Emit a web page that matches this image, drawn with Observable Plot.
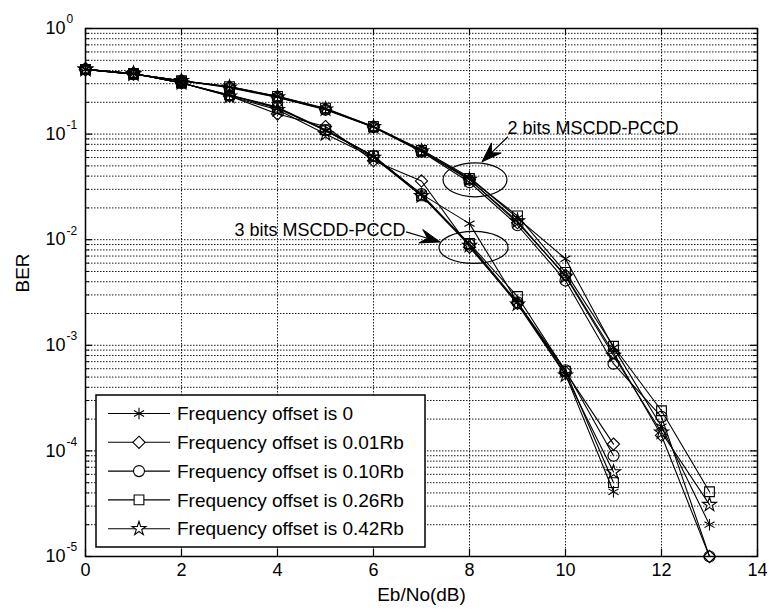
<!DOCTYPE html>
<html>
<head>
<meta charset="utf-8">
<script src="https://cdn.jsdelivr.net/npm/d3@7"></script>
<script src="https://cdn.jsdelivr.net/npm/@observablehq/plot@0.6"></script>
<style>
  html, body { margin: 0; padding: 0; background: #fff; }
  svg { display: block; }
</style>
</head>
<body>
<div id="chart"></div>
<script>
// ---------- data ----------
const seriesLabels = [
  "Frequency offset is 0",
  "Frequency offset is 0.01Rb",
  "Frequency offset is 0.10Rb",
  "Frequency offset is 0.26Rb",
  "Frequency offset is 0.42Rb"
];
const seriesSymbols = ["asterisk", "diamond2", "circle", "square", "star"];
const symbolRadius = [5.5, 5.5, 5.5, 5.5, 4.4];

// 2 bits MSCDD-PCCD, Eb/No = 0..13 dB
const ebno2 = [0,1,2,3,4,5,6,7,8,9,10,11,12,13];
const ber2_off0    = [0.41,0.37,0.32,0.28,0.228,0.174,0.118,0.071,0.039,0.0160,0.0066,0.00095,0.00017,2.0e-5];
const ber2_off001  = [0.41,0.37,0.32,0.28,0.225,0.172,0.117,0.069,0.037,0.0145,0.0046,0.00085,0.00014,1.0e-5];
const ber2_off010  = [0.41,0.37,0.32,0.275,0.222,0.170,0.116,0.068,0.035,0.0137,0.0041,0.00067,0.00021,1.0e-5];
const ber2_off026  = [0.41,0.37,0.32,0.282,0.228,0.176,0.118,0.070,0.038,0.0168,0.0049,0.00098,0.00024,4.1e-5];
const ber2_off042  = [0.41,0.37,0.32,0.278,0.224,0.172,0.117,0.069,0.037,0.0150,0.0045,0.00080,0.00015,3.1e-5];

// 3 bits MSCDD-PCCD, Eb/No = 0..11 dB
const ebno3 = [0,1,2,3,4,5,6,7,8,9,10,11];
const ber3_off0    = [0.41,0.375,0.305,0.235,0.178,0.108,0.061,0.027,0.0142,0.00255,0.00053,4.1e-5];
const ber3_off001  = [0.41,0.375,0.305,0.23,0.155,0.118,0.056,0.036,0.0085,0.00250,0.00056,1.16e-4];
const ber3_off010  = [0.41,0.375,0.305,0.232,0.176,0.108,0.062,0.027,0.0090,0.00255,0.00058,9.0e-5];
const ber3_off026  = [0.41,0.375,0.305,0.235,0.180,0.110,0.062,0.026,0.0092,0.00290,0.00057,5.0e-5];
const ber3_off042  = [0.41,0.375,0.305,0.228,0.170,0.100,0.060,0.026,0.0088,0.00245,0.00052,6.3e-5];

// ticks
const xTicks = [0,2,4,6,8,10,12,14];
const yMajor = [1, 1e-1, 1e-2, 1e-3, 1e-4, 1e-5];
const yExponents = ["0","-1","-2","-3","-4","-5"];
const yMinorMultipliers = [2,3,4,5,6,7,8,9];
const yDecades = [1e-1, 1e-2, 1e-3, 1e-4, 1e-5];

// annotations (data coordinates)
const annText = [
  {label: "2 bits MSCDD-PCCD", x: 8.79, y: 0.1135, anchor: "start"},
  {label: "3 bits MSCDD-PCCD", x: 6.667, y: 0.01225, anchor: "end"}
];
const annEllipse = [
  {x: 8.125, y: 0.0365, rx: 32, ry: 17},
  {x: 8.094, y: 0.00836, rx: 34.5, ry: 16}
];
const annArrow = [
  {x1: 8.81, y1: 0.0933, x2: 8.27, y2: 0.054},
  {x1: 6.69, y1: 0.01173, x2: 7.396, y2: 0.00942}
];

// ---------- build table ----------
const group2 = [ber2_off0, ber2_off001, ber2_off010, ber2_off026, ber2_off042];
const group3 = [ber3_off0, ber3_off001, ber3_off010, ber3_off026, ber3_off042];
const rows = [];
group2.forEach((arr, i) => arr.forEach((v, j) => rows.push({group: "2 bits", series: seriesLabels[i], x: ebno2[j], ber: v})));
group3.forEach((arr, i) => arr.forEach((v, j) => rows.push({group: "3 bits", series: seriesLabels[i], x: ebno3[j], ber: v})));

const yMinor = [];
yDecades.forEach(d => yMinorMultipliers.forEach(m => yMinor.push(m * d)));
const yTickTable = yMajor.map((v, i) => ({v, exp: yExponents[i]}));

// ---------- layout ----------
const W = 769, H = 613;
const mL = 85, mR = 12, mT = 28, mB = 57;
const fw = W - mL - mR, fh = H - mT - mB;
const FONT = "'Liberation Sans', Arial, Helvetica, sans-serif";
const grid = {stroke: "#000", strokeWidth: 1, strokeDasharray: "1.5,1.5", strokeOpacity: 0.9};

const dotMarks = seriesLabels.map((lab, i) =>
  Plot.dot(rows, {x: "x", y: "ber", symbol: "series", filter: d => d.series === lab,
    r: symbolRadius[i], stroke: "black", fill: "none", strokeWidth: 1.1}));

const chart = Plot.plot({
  width: W, height: H,
  marginLeft: mL, marginRight: mR, marginTop: mT, marginBottom: mB,
  style: {fontFamily: FONT, fontSize: "18px", background: "white", color: "black"},
  x: {domain: [0, 14], axis: null},
  y: {type: "log", domain: [1e-5, 1], axis: null},
  symbol: {domain: seriesLabels, range: seriesSymbols},
  marks: [
    // grid
    Plot.ruleX(xTicks, {...grid}),
    Plot.ruleY(yMajor, {...grid}),
    Plot.ruleY(yMinor, {...grid}),
    // data
    Plot.line(rows, {x: "x", y: "ber", z: d => d.group + d.series, stroke: "black", strokeWidth: 1.1}),
    ...dotMarks,
    // frame and inward ticks
    Plot.frame({stroke: "black", strokeWidth: 1.5}),
    Plot.ruleX(xTicks, {stroke: "black", strokeWidth: 1.2, insetTop: fh - 7}),
    Plot.ruleX(xTicks, {stroke: "black", strokeWidth: 1.2, insetBottom: fh - 7}),
    Plot.ruleY(yMajor, {stroke: "black", strokeWidth: 1.2, insetRight: fw - 7}),
    Plot.ruleY(yMajor, {stroke: "black", strokeWidth: 1.2, insetLeft: fw - 7}),
    Plot.ruleY(yMinor, {stroke: "black", strokeWidth: 1, insetRight: fw - 4}),
    Plot.ruleY(yMinor, {stroke: "black", strokeWidth: 1, insetLeft: fw - 4}),
    // tick labels
    Plot.text(xTicks, {x: d => d, frameAnchor: "bottom", dy: 19, text: d => String(d), fontSize: 18}),
    Plot.text(yTickTable, {y: "v", frameAnchor: "left", dx: -20, text: () => "10", textAnchor: "end", fontSize: 18}),
    Plot.text(yTickTable, {y: "v", frameAnchor: "left", dx: -19, dy: -9, text: "exp", textAnchor: "start", fontSize: 12}),
    // axis labels
    Plot.text(["BER"], {frameAnchor: "left", dx: -63, rotate: -90, text: d => d, fontSize: 19}),
    Plot.text(["Eb/No(dB)"], {frameAnchor: "bottom", dy: 44, text: d => d, fontSize: 19}),
    // annotation texts
    Plot.text(annText, {x: "x", y: "y", text: "label", textAnchor: "start", filter: d => d.anchor === "start", fontSize: 18}),
    Plot.text(annText, {x: "x", y: "y", text: "label", textAnchor: "end", filter: d => d.anchor === "end", fontSize: 18})
  ]
});
document.getElementById("chart").appendChild(chart);

// ---------- annotations & legend (pixel space via Plot scales) ----------
const sx = chart.scale("x"), sy = chart.scale("y");
const fx = sx.apply ? (v => sx.apply(v)) : d3.scaleLinear(sx.domain, sx.range);
const fy = sy.apply ? (v => sy.apply(v)) : d3.scaleLog(sy.domain, sy.range);
const svg = d3.select(chart);
const ann = svg.append("g").attr("fill", "none").attr("stroke", "black");

annEllipse.forEach(e => {
  ann.append("ellipse").attr("cx", fx(e.x)).attr("cy", fy(e.y))
    .attr("rx", e.rx).attr("ry", e.ry).attr("stroke-width", 1.2);
});
annArrow.forEach(a => {
  const x1 = fx(a.x1), y1 = fy(a.y1), x2 = fx(a.x2), y2 = fy(a.y2);
  const dx = x2 - x1, dy = y2 - y1, len = Math.hypot(dx, dy);
  const ux = dx / len, uy = dy / len, px = -uy, py = ux;
  const L = 20, Wd = 7, N = 13;
  ann.append("line").attr("x1", x1).attr("y1", y1)
    .attr("x2", x2 - ux * N).attr("y2", y2 - uy * N).attr("stroke-width", 1.2);
  const pts = [
    [x2, y2],
    [x2 - ux * L + px * Wd, y2 - uy * L + py * Wd],
    [x2 - ux * N, y2 - uy * N],
    [x2 - ux * L - px * Wd, y2 - uy * L - py * Wd]
  ];
  ann.append("path").attr("d", "M" + pts.map(p => p.join(",")).join("L") + "Z")
    .attr("fill", "black").attr("stroke", "black").attr("stroke-width", 1);
});

// legend
const lg = svg.append("g").attr("text-anchor", "start");
const lx0 = 96, ly0 = 395, lx1 = 425, ly1 = 547;
lg.append("rect").attr("x", lx0).attr("y", ly0).attr("width", lx1 - lx0).attr("height", ly1 - ly0)
  .attr("fill", "white").attr("stroke", "black").attr("stroke-width", 1.5);
const d3Sym = {asterisk: d3.symbolAsterisk, diamond2: d3.symbolDiamond2, circle: d3.symbolCircle, square: d3.symbolSquare, star: d3.symbolStar};
seriesLabels.forEach((lab, i) => {
  const cy = 413.5 + i * 28.8;
  lg.append("line").attr("x1", 108).attr("x2", 170).attr("y1", cy).attr("y2", cy)
    .attr("stroke", "black").attr("stroke-width", 1.1);
  lg.append("path").attr("transform", `translate(139,${cy})`)
    .attr("d", d3.symbol(d3Sym[seriesSymbols[i]], Math.PI * symbolRadius[i] * symbolRadius[i])())
    .attr("fill", seriesSymbols[i] === "asterisk" ? "none" : "white").attr("stroke", "black").attr("stroke-width", 1.1);
  lg.append("text").attr("x", 177).attr("y", cy).attr("dy", "0.35em").attr("text-anchor", "start")
    .attr("font-family", FONT).attr("font-size", 19).attr("fill", "black").text(lab);
});
</script>
</body>
</html>
